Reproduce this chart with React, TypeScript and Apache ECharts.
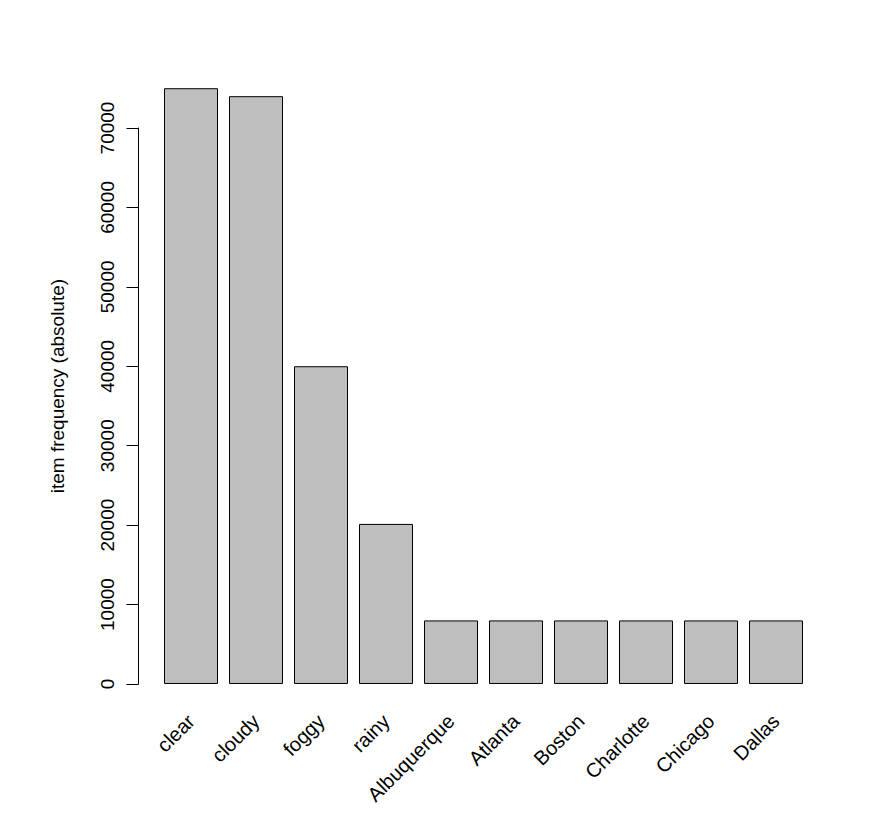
import React, { useEffect, useRef } from "react";
import * as echarts from "echarts";

const categories = ["clear", "cloudy", "foggy", "rainy", "Albuquerque", "Atlanta", "Boston", "Charlotte", "Chicago", "Dallas"];
const frequencies = [75000, 74000, 40000, 20150, 8000, 8000, 8000, 8000, 8000, 8000];
const axisMin = 0;
const axisMax = 70000;
const axisInterval = 10000;
const yTitle = "item frequency (absolute)";

const FONT = "'Liberation Sans', Arial, Helvetica, sans-serif";

export default function App() {
  const ref = useRef<HTMLDivElement>(null);
  useEffect(() => {
    const chart = echarts.init(ref.current!, null, { renderer: "svg" });
    const plotLeft = 158.5;
    const plotRight = 894 - 808.5;
    chart.setOption({
      animation: false,
      backgroundColor: "#ffffff",
      textStyle: { fontFamily: FONT },
      grid: [
        { left: plotLeft, right: plotRight, top: 64.4, bottom: 814 - 707.8 },
        { left: plotLeft, right: plotRight, top: 128, bottom: 130 },
      ],
      xAxis: [
        {
          gridIndex: 0,
          type: "category",
          data: categories,
          boundaryGap: true,
          axisLine: { show: false, onZero: false },
          axisTick: { show: false },
          axisLabel: {
            interval: 0,
            rotate: 45,
            margin: 10,
            fontSize: 20,
            color: "#000",
            fontFamily: FONT,
          },
        },
        { gridIndex: 1, type: "category", data: categories, show: false },
      ],
      yAxis: [
        {
          gridIndex: 0,
          type: "value",
          min: -3000,
          max: 78000,
          name: yTitle,
          nameLocation: "middle",
          nameRotate: 90,
          nameGap: 92,
          nameTextStyle: { fontSize: 19, color: "#000", fontFamily: FONT },
          axisLine: { show: false },
          axisTick: { show: false },
          axisLabel: { show: false },
          splitLine: { show: false },
        },
        {
          gridIndex: 1,
          type: "value",
          min: axisMin,
          max: axisMax,
          interval: axisInterval,
          offset: 20,
          axisLine: { show: true, lineStyle: { color: "#000", width: 1 } },
          axisTick: { show: true, length: 12, lineStyle: { color: "#000", width: 1 } },
          axisLabel: {
            rotate: 90,
            margin: 22,
            fontSize: 19,
            color: "#000",
            fontFamily: FONT,
            formatter: (v: number) => String(v),
          },
          splitLine: { show: false },
        },
      ],
      series: [
        {
          type: "bar",
          xAxisIndex: 0,
          yAxisIndex: 0,
          data: frequencies,
          barWidth: 54,
          itemStyle: { color: "#BEBEBE", borderColor: "#000", borderWidth: 1 },
        },
      ],
    });
    return () => chart.dispose();
  }, []);
  return (
    <div
      ref={ref}
      style={{ position: "absolute", left: 0, top: 0, width: 894, height: 814 }}
    />
  );
}
